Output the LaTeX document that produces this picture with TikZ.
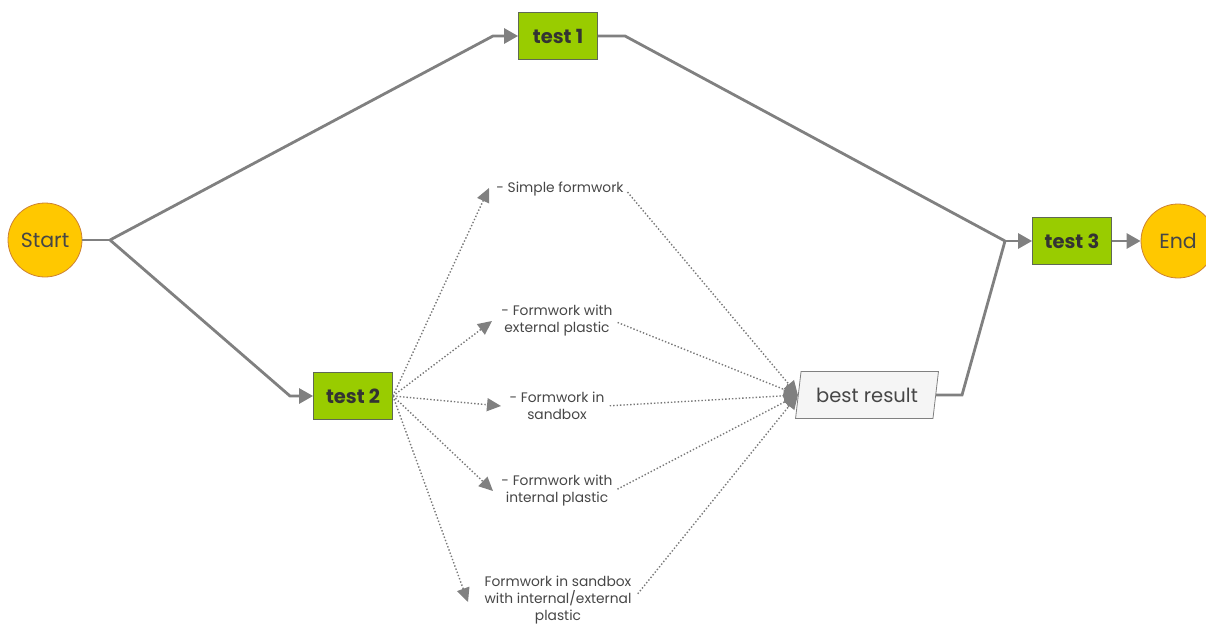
\documentclass[tikz,border=0pt]{standalone}
\usepackage{fontspec}
\setmainfont{Poppins}
\usetikzlibrary{arrows.meta,shapes.geometric}

\definecolor{flowgray}{RGB}{128,128,128}
\definecolor{dotgray}{RGB}{120,120,120}
\definecolor{textgray}{RGB}{70,70,70}
\definecolor{startyellow}{RGB}{255,200,0}
\definecolor{startedge}{RGB}{205,130,50}
\definecolor{testgreen}{RGB}{153,204,0}
\definecolor{testedge}{RGB}{95,105,85}
\definecolor{resultfill}{RGB}{245,245,245}

\tikzset{every picture/.style={line width=0.75pt},
  terminal/.style={circle, draw=startedge, fill=startyellow, line width=0.8pt, minimum size=74pt, inner sep=0pt, text=textgray, font=\fontsize{20.5}{22}\selectfont},
  testbox/.style={rectangle, draw=testedge, fill=testgreen, line width=0.8pt, minimum width=79pt, minimum height=47pt, text=black!80, font=\fontsize{19.5}{21}\selectfont\bfseries},
  resultbox/.style={trapezium, trapezium left angle=78, trapezium right angle=102, trapezium stretches=true, draw=flowgray, fill=resultfill, line width=0.8pt, minimum width=143pt, minimum height=47pt, text=textgray, font=\fontsize{19.5}{21}\selectfont},
  option/.style={align=center, inner sep=1pt, text=textgray, font=\fontsize{13.8}{17}\selectfont},
  flowline/.style={draw=flowgray, line width=2.8pt},
  flowarrow/.style={flowline, -{Triangle[length=14pt,width=15pt]}},
  dotarrow/.style={draw=dotgray, line width=1.4pt, dotted, -{Triangle[length=14pt,width=13pt,color=flowgray]}}
}

\begin{document}
\begin{tikzpicture}[x=1pt,y=1pt,yscale=-1,xscale=1]
\useasboundingbox (0,0) rectangle (1206,626);

%Shape: Circle
\node [terminal] (start) at (45,240) {Start};
\node [terminal] (end) at (1178,241) {End};
%Shape: Rectangle
\node [testbox] (test1) at (558,36) {test 1};
\node [testbox] (test2) at (353,396) {test 2};
\node [testbox] (test3) at (1072,241) {test 3};
%Shape: Parallelogram
\node [resultbox] (best) at (867,395) {best result};

% Text Node
\node [option] (simple) at (560,189) {- Simple formwork};
\node [option] (external) at (557,321) {- Formwork with\\external plastic};
\node [option] (sandbox) at (557,406) {- Formwork in\\sandbox};
\node [option] (internal) at (557,491) {- Formwork with\\internal plastic};
\node [option] (both) at (558,600) {Formwork in sandbox\\with internal/external\\plastic};

%Bends of the lines
\coordinate (split) at (110,240);
\coordinate (t1in) at (493,36);
\coordinate (t2in) at (290,396);
\coordinate (t1out) at (625,36);
\coordinate (bestout) at (962,395);
\coordinate (join) at (1005,241);
\coordinate (tipsimple) at (489,188);
\coordinate (tipexternal) at (492,321);
\coordinate (tipsandbox) at (501,406);
\coordinate (tipinternal) at (493,491);
\coordinate (tipboth) at (468,602);

%Straight Lines
\draw [flowline] (start) -- (split);
\draw [flowarrow] (split) -- (t1in) -- (test1);
\draw [flowarrow] (split) -- (t2in) -- (test2);
\draw [flowline] (test1) -- (t1out) -- (join);
\draw [flowline] (best) -- (bestout) -- (join);
\draw [flowarrow] (join) -- (test3);
\draw [flowarrow] (test3) -- (end);

%Dotted Lines
\draw [dotarrow] (test2.east) -- (tipsimple);
\draw [dotarrow] (test2.east) -- (tipexternal);
\draw [dotarrow] (test2.east) -- (tipsandbox);
\draw [dotarrow] (test2.east) -- (tipinternal);
\draw [dotarrow] (test2.east) -- (tipboth);
\draw [dotarrow, shorten <=4pt] (simple.east) -- (best.west);
\draw [dotarrow, shorten <=4pt] (external.east) -- (best.west);
\draw [dotarrow, shorten <=4pt] (sandbox.east) -- (best.west);
\draw [dotarrow, shorten <=4pt] (internal.east) -- (best.west);
\draw [dotarrow, shorten <=8pt] (both.east) -- (best.west);

\end{tikzpicture}
\end{document}
